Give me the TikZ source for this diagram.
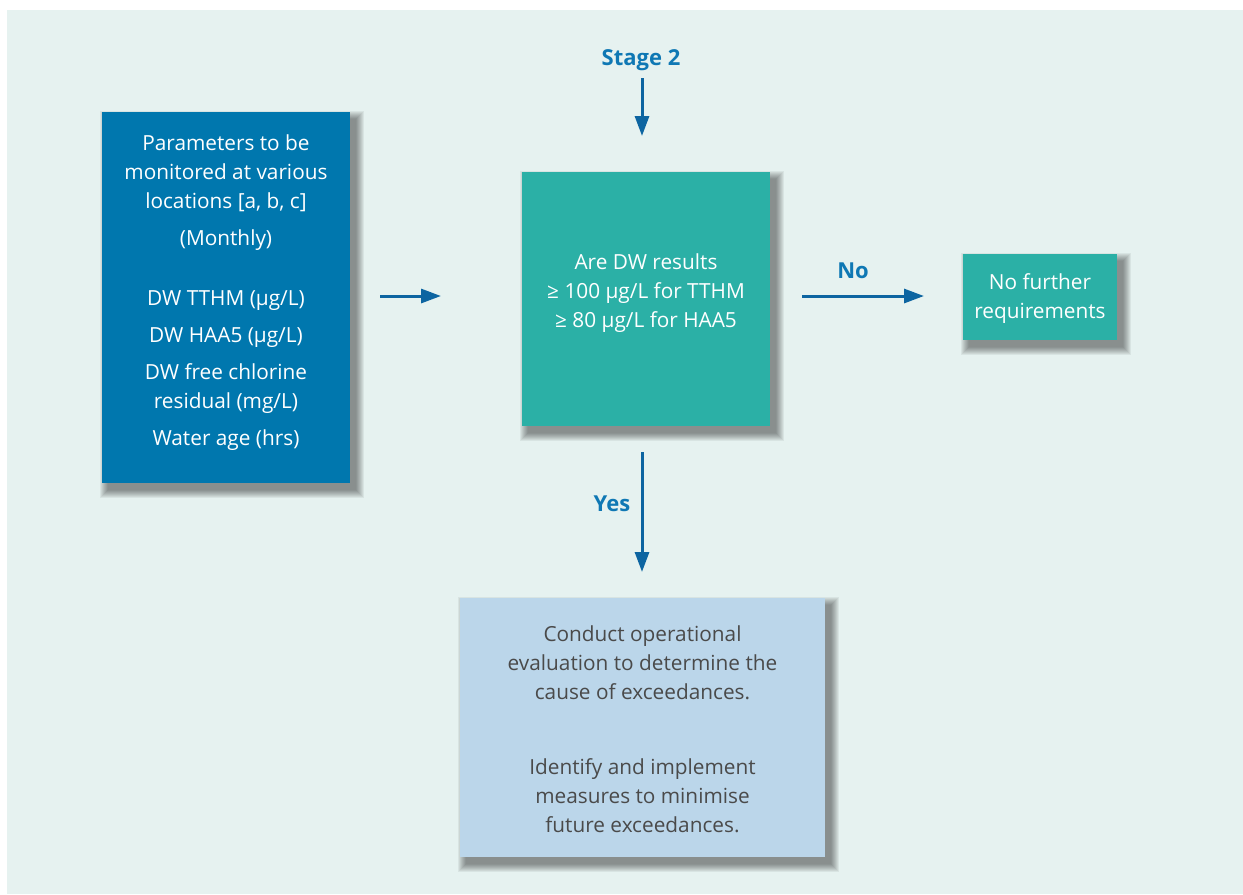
\documentclass[tikz,border=0pt]{standalone}
\usepackage{fontspec}
\setmainfont{Open Sans}
\usetikzlibrary{arrows.meta}
\definecolor{bg}{HTML}{E6F2F0}
\definecolor{darkblue}{HTML}{0077AE}
\definecolor{teal}{HTML}{2BB0A6}
\definecolor{lightblue}{HTML}{BBD6EA}
\definecolor{arrowblue}{HTML}{0D65A1}
\definecolor{labelblue}{HTML}{0F78B4}
\definecolor{graytext}{HTML}{4A4A4A}
\pgfdeclarelayer{shadowlayer}
\pgfsetlayers{shadowlayer,main}
\newcommand\myboxshadow[1]{%
  \begin{pgfonlayer}{shadowlayer}
  \foreach \i in {0,0.5,...,8}{%
    \fill[black, opacity=0.026] ([shift={(6-\i,7-\i)}]#1.north west) rectangle ([shift={(6+\i,7+\i)}]#1.south east);
  }%
  \end{pgfonlayer}}
\begin{document}
\begin{tikzpicture}[x=0.75pt,y=-0.75pt,
  box/.style={rectangle, inner sep=0pt, draw=none},
  txt/.style={align=center, inner sep=0pt, font=\fontsize{15.6}{21.75}\selectfont},
  lbl/.style={inner sep=0pt, text=labelblue, font=\fontsize{16.5}{19}\selectfont\bfseries},
  conn/.style={draw=arrowblue, line width=2.25pt, -{Triangle[length=15pt,width=10.5pt]}}
]
\begin{pgfonlayer}{shadowlayer}
\useasboundingbox (0,0) rectangle (1243,894);
\fill[bg] (7,10) rectangle (1243,894);
\end{pgfonlayer}

\node[box, fill=darkblue, minimum width=186pt, minimum height=278.25pt] (left) at (226,297.5) {};
\node[box, fill=teal, minimum width=186pt, minimum height=190.5pt] (center) at (646,299) {};
\node[box, fill=teal, minimum width=115.5pt, minimum height=64.5pt] (right) at (1040,297) {};
\node[box, fill=lightblue, minimum width=273.75pt, minimum height=194.25pt] (bottom) at (642.5,727.5) {};
\myboxshadow{left}
\myboxshadow{center}
\myboxshadow{right}
\myboxshadow{bottom}

\node[txt, text=white] (lefttxt) at (226,293) {Parameters to be\\monitored at various\\locations [a, b, c]\\[6pt](Monthly)\\[23.25pt]DW TTHM (µg/L)\\[6pt]DW HAA5 (µg/L)\\[6pt]DW free chlorine\\residual (mg/L)\\[6pt]Water age (hrs)};
\node[txt, text=white] (centertxt) at (646,293) {Are DW results\\≥ 100 µg/L for TTHM\\≥ 80 µg/L for HAA5};
\node[txt, text=white] (righttxt) at (1040,298.5) {No further\\requirements};
\node[txt, text=graytext] (bottomtxt) at (642.5,729.5) {Conduct operational\\evaluation to determine the\\cause of exceedances.\\[34.5pt]Identify and implement\\measures to minimise\\future exceedances.};

\node[lbl] (stage) at (641,60) {Stage 2};
\node[lbl] (nolbl) at (853,271) {No};
\node[lbl] (yeslbl) at (612,504) {Yes};

\coordinate (a1s) at (380,296);
\coordinate (a1e) at (441,296);
\coordinate (s2s) at (642,78);
\coordinate (s2e) at (642,136);
\coordinate (nos) at (802,296);
\coordinate (noe) at (924,296);
\coordinate (yess) at (642,452);
\coordinate (yese) at (642,572);

\draw[conn] (a1s) -- (a1e);
\draw[conn] (s2s) -- (s2e);
\draw[conn] (nos) -- (noe);
\draw[conn] (yess) -- (yese);
\end{tikzpicture}
\end{document}
